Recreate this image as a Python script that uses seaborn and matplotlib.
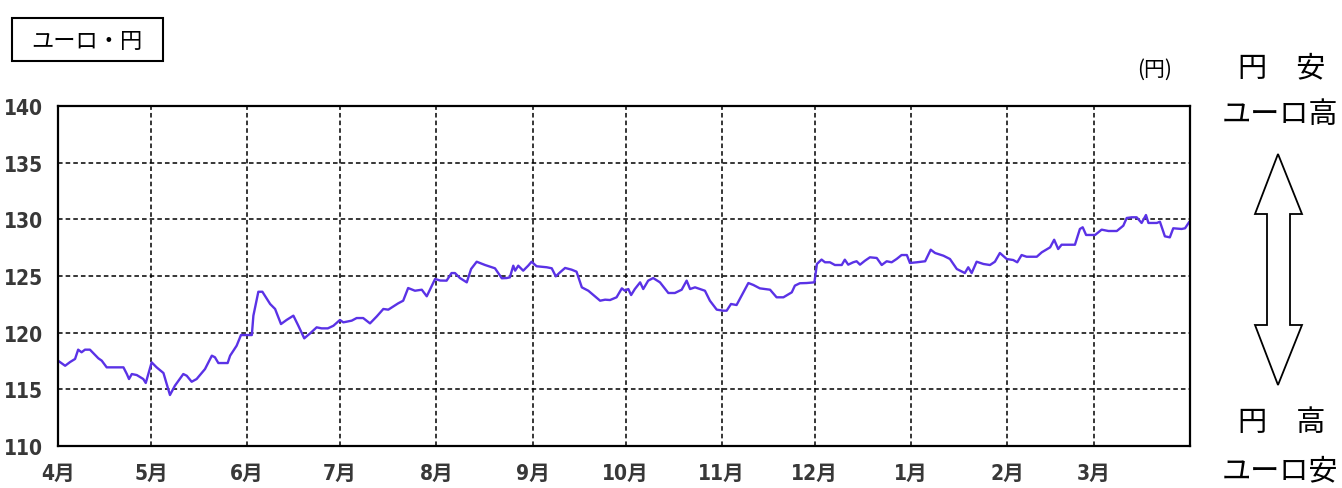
import numpy as np
import pandas as pd
import seaborn as sns
from matplotlib import pyplot as plt
from matplotlib.patches import Polygon, Rectangle

# days since 1 April
days = [0.0, 2.3, 3.9, 5.5, 6.5, 7.6, 8.7, 10.3, 13.0, 14.1, 15.7, 21.1, 22.2, 22.9,
        23.8, 25.4, 27.5, 28.3, 30.2, 31.8, 34.0, 36.1, 37.7, 40.4, 41.5, 43.1, 44.7,
        47.4, 49.6, 50.6, 51.7, 54.7, 55.5, 57.6, 59.0, 61.4, 62.5, 63.0, 64.6, 65.9,
        68.4, 70.0, 71.9, 73.7, 75.9, 77.5, 79.4, 81.3, 83.4, 85.0, 87.0, 88.8, 90.9,
        92.0, 94.7, 96.3, 98.4, 100.6, 102.8, 104.9, 106.5, 109.7, 111.3, 112.9, 115.1,
        117.3, 118.9, 121.6, 123.2, 125.3, 126.9, 128.0, 129.6, 131.8, 133.2, 135.0,
        137.7, 140.9, 143.1, 144.7, 145.7, 146.8, 147.4, 148.4, 150.0, 151.6, 152.7,
        154.3, 157.6, 159.2, 160.5, 161.9, 163.5, 165.6, 167.2, 168.9, 171.0, 174.8,
        176.4, 178.0, 180.1, 181.8, 182.8, 183.9, 184.8, 186.0, 187.7, 188.7, 190.3,
        191.9, 194.1, 196.8, 198.9, 201.1, 202.7, 203.8, 205.4, 207.0, 208.6, 210.2,
        212.4, 214.5, 215.6, 217.0, 218.8, 220.4, 222.6, 224.2, 226.3, 229.6, 231.7,
        233.9, 236.6, 237.6, 239.2, 241.4, 243.9, 244.7, 246.2, 247.3, 248.9, 250.5,
        252.7, 253.7, 254.8, 256.4, 257.5, 258.6, 260.2, 261.8, 264.0, 265.6, 267.2,
        268.8, 270.4, 272.0, 273.7, 274.7, 276.9, 279.6, 281.4, 282.8, 285.5, 287.6,
        289.8, 292.4, 293.5, 294.6, 296.2, 298.4, 300.5, 302.1, 303.7, 305.9, 308.0,
        309.3, 310.7, 312.3, 315.6, 317.2, 319.9, 321.2, 322.5, 323.6, 327.9, 329.5,
        330.4, 331.5, 334.4, 336.5, 338.7, 341.4, 343.5, 344.6, 346.2, 347.8, 349.4,
        350.8, 351.6, 354.3, 355.3, 356.9, 358.5, 359.6, 362.3, 363.4, 364.8]

# yen per euro
rate = [117.53, 117.08, 117.41, 117.68, 118.50, 118.27, 118.50, 118.50, 117.74, 117.53,
        116.94, 116.94, 116.35, 115.91, 116.35, 116.26, 115.91, 115.56, 117.38, 116.94,
        116.44, 114.50, 115.32, 116.35, 116.20, 115.67, 115.91, 116.79, 117.97, 117.83,
        117.32, 117.32, 117.97, 118.85, 119.79, 119.79, 119.79, 121.50, 123.61, 123.61,
        122.53, 122.09, 120.76, 121.12, 121.50, 120.61, 119.50, 119.94, 120.47, 120.38,
        120.38, 120.61, 121.12, 120.91, 121.06, 121.29, 121.29, 120.82, 121.44, 122.09,
        122.03, 122.59, 122.82, 123.94, 123.70, 123.79, 123.21, 124.74, 124.60, 124.59,
        125.26, 125.26, 124.82, 124.44, 125.62, 126.26, 125.97, 125.68, 124.80, 124.82,
        124.88, 125.91, 125.47, 125.91, 125.47, 125.91, 126.26, 125.86, 125.77, 125.68,
        124.97, 125.33, 125.71, 125.56, 125.38, 124.00, 123.70, 122.82, 122.91, 122.88,
        123.12, 123.91, 123.70, 123.85, 123.32, 123.85, 124.44, 123.85, 124.59, 124.82,
        124.44, 123.50, 123.50, 123.79, 124.59, 123.85, 124.00, 123.85, 123.70, 122.82,
        122.03, 121.94, 121.94, 122.53, 122.44, 123.26, 124.38, 124.21, 123.91, 123.79,
        123.12, 123.12, 123.56, 124.15, 124.36, 124.38, 124.44, 126.06, 126.45, 126.21,
        126.21, 125.97, 125.97, 126.44, 126.00, 126.21, 126.30, 126.00, 126.35, 126.65,
        126.59, 125.97, 126.30, 126.21, 126.50, 126.85, 126.85, 126.15, 126.21, 126.30,
        127.32, 127.03, 126.79, 126.50, 125.62, 125.26, 125.77, 125.26, 126.26, 126.06,
        125.97, 126.26, 127.03, 126.50, 126.41, 126.21, 126.85, 126.70, 126.70, 127.09,
        127.53, 128.20, 127.38, 127.76, 127.76, 129.15, 129.30, 128.62, 128.62, 129.09,
        128.97, 128.97, 129.44, 130.12, 130.18, 130.18, 129.68, 130.38, 129.68, 129.68,
        129.79, 128.50, 128.41, 129.21, 129.15, 129.21, 129.79]

months = ["4月", "5月", "6月", "7月", "8月", "9月", "10月", "11月", "12月", "1月", "2月", "3月"]
month_len = [30, 31, 30, 31, 31, 30, 31, 30, 31, 31, 28, 31]
yticks = [110, 115, 120, 125, 130, 135, 140]

sns.set_theme(style="white")
plt.rcParams['font.family'] = ['Noto Sans CJK JP', 'DejaVu Sans']
plt.rcParams['text.color'] = 'black'
tick_font = ['DejaVu Sans', 'Noto Sans CJK JP']

W, H = 1342, 489
fig = plt.figure(figsize=(W / 100, H / 100), dpi=100)
ax = fig.add_axes([58 / W, 1 - 447 / H, (1190 - 58) / W, (447 - 107) / H])

df = pd.DataFrame({"day": days, "rate": rate})
sns.lineplot(data=df, x="day", y="rate", ax=ax, color="#5a32e6", linewidth=1.7)

starts = np.concatenate([[0], np.cumsum(month_len)])
ax.set_xlim(0, starts[-1])
ax.set_ylim(110, 140)
ax.set_xticks(starts[:-1])
ax.set_xticklabels(months, family=tick_font, fontsize=15, fontweight="bold",
                   fontstretch="condensed", color="#383838")
ax.set_yticks(yticks)
ax.set_yticklabels([str(v) for v in yticks], family=tick_font, fontsize=15,
                   fontweight="bold", fontstretch="condensed", color="#383838")
ax.tick_params(axis="x", length=0, pad=12)
ax.tick_params(axis="y", length=0, pad=11)
ax.set_xlabel("")
ax.set_ylabel("")
ax.grid(True, color="black", linestyle=(0, (3, 2)), linewidth=1.1)
for s in ax.spines.values():
    s.set_color("black")
    s.set_linewidth(1.6)

# title box
fig.patches.append(Rectangle((12 / W, 1 - 62 / H), 151 / W, 43 / H, transform=fig.transFigure,
                             fill=False, edgecolor="black", linewidth=1.5))
fig.text(87 / W, 1 - 41 / H, "ユーロ・円", ha="center", va="center", fontsize=16)
fig.text(1155 / W, 1 - 70 / H, "(円)", ha="center", va="center", fontsize=15)

# right side annotation
fig.text(1282 / W, 1 - 68 / H, "円\u3000安", ha="center", va="center", fontsize=21)
fig.text(1280 / W, 1 - 115 / H, "ユーロ高", ha="center", va="center", fontsize=21)
fig.text(1282 / W, 1 - 423 / H, "円\u3000高", ha="center", va="center", fontsize=21)
fig.text(1280 / W, 1 - 471 / H, "ユーロ安", ha="center", va="center", fontsize=21)

arrow_px = [(1278, 155), (1302, 215), (1290, 215), (1290, 326), (1302, 326), (1278, 386),
            (1255, 326), (1267, 326), (1267, 215), (1255, 215)]
fig.patches.append(Polygon([(x / W, 1 - y / H) for x, y in arrow_px], closed=True,
                           transform=fig.transFigure, facecolor="white",
                           edgecolor="black", linewidth=1.3))

plt.savefig("out.png", dpi=100)
